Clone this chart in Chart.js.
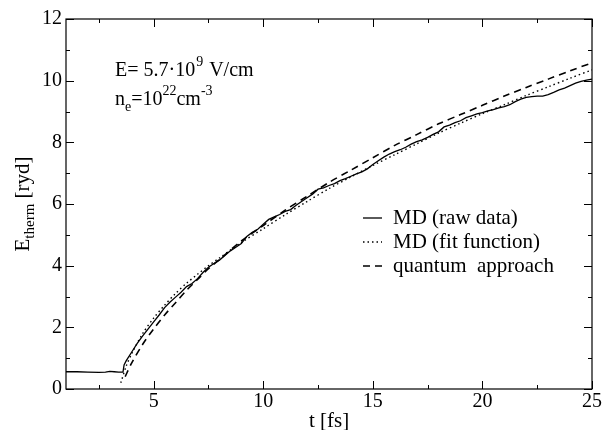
<!DOCTYPE html>
<html>
<head>
<meta charset="utf-8">
<script src="https://cdn.jsdelivr.net/npm/chart.js@4"></script>
<style>
  body { margin: 0; background: #fff; }
  #wrap { width: 604px; height: 430px; }
</style>
</head>
<body>
<div id="wrap"><canvas id="thermChart" width="604" height="430"></canvas></div>
<script>
// MD raw data (time in fs, energy in ryd)
const rawT = [1.0, 1.5, 2.0, 2.5, 2.8, 3.0, 3.2, 3.4, 3.6, 3.65, 3.75, 4.0, 4.25, 4.5, 4.75,
  5.0, 5.25, 5.5, 5.75, 6.0, 6.25, 6.5, 6.75, 7.0, 7.25, 7.5, 7.75, 8.0, 8.25, 8.5, 8.75,
  9.0, 9.25, 9.5, 9.75, 10.0, 10.25, 10.5, 10.75, 11.0, 11.25, 11.5, 11.75, 12.0, 12.25,
  12.5, 12.75, 13.0, 13.25, 13.5, 13.75, 14.0, 14.25, 14.5, 14.75, 15.0, 15.25, 15.5,
  15.75, 16.0, 16.25, 16.5, 16.75, 17.0, 17.25, 17.5, 17.75, 18.0, 18.25, 18.5, 18.75,
  19.0, 19.25, 19.5, 19.75, 20.0, 20.25, 20.5, 20.75, 21.0, 21.25, 21.5, 21.75, 22.0,
  22.25, 22.5, 22.75, 23.0, 23.25, 23.5, 23.75, 24.0, 24.25, 24.5, 24.75, 25.0];
const rawE = [0.56, 0.56, 0.55, 0.54, 0.55, 0.57, 0.56, 0.55, 0.55, 0.78, 0.92, 1.2, 1.48, 1.72, 1.95,
  2.18, 2.4, 2.64, 2.82, 2.98, 3.14, 3.32, 3.42, 3.58, 3.78, 3.95, 4.07, 4.18, 4.33, 4.48, 4.6,
  4.72, 4.95, 5.08, 5.18, 5.34, 5.5, 5.58, 5.66, 5.76, 5.82, 5.96, 6.08, 6.2, 6.32,
  6.48, 6.52, 6.6, 6.66, 6.76, 6.82, 6.9, 6.98, 7.04, 7.14, 7.28, 7.4, 7.52,
  7.62, 7.7, 7.76, 7.84, 7.94, 8.02, 8.08, 8.16, 8.26, 8.34, 8.5, 8.56, 8.64,
  8.7, 8.8, 8.86, 8.92, 8.96, 9.02, 9.06, 9.12, 9.16, 9.22, 9.32, 9.4, 9.46,
  9.48, 9.5, 9.5, 9.55, 9.62, 9.7, 9.76, 9.84, 9.92, 9.98, 10.02, 10.05];

// MD fit function
const fitT = [3.5, 3.75, 4.0, 4.5, 5.0, 5.5, 6.0, 6.5, 7.0, 7.5, 8.0, 9.0, 10.0, 11.0, 12.0,
  13.0, 14.0, 15.0, 16.0, 17.0, 18.0, 19.0, 20.0, 21.0, 22.0, 23.0, 24.0, 25.0];
const fitE = [0.2, 0.75, 1.15, 1.8, 2.3, 2.72, 3.1, 3.43, 3.72, 4.0, 4.25, 4.75, 5.2, 5.65, 6.08,
  6.5, 6.88, 7.25, 7.6, 7.95, 8.3, 8.62, 8.93, 9.22, 9.52, 9.8, 10.08, 10.35];

// quantum approach
const qT = [3.7, 4.0, 4.5, 5.0, 5.5, 6.0, 6.5, 7.0, 7.5, 8.0, 9.0, 10.0, 11.0, 12.0, 13.0,
  14.0, 15.0, 16.0, 17.0, 18.0, 19.0, 20.0, 21.0, 22.0, 23.0, 24.0, 25.0];
const qE = [0.4, 0.85, 1.45, 1.95, 2.4, 2.8, 3.2, 3.55, 3.9, 4.2, 4.8, 5.3, 5.8, 6.25, 6.7,
  7.1, 7.5, 7.9, 8.25, 8.6, 8.9, 9.2, 9.5, 9.78, 10.05, 10.32, 10.58];

const xMajor = [5, 10, 15, 20, 25];
const xMinor = [2.5, 7.5, 12.5, 17.5, 22.5];
const yMajor = [0, 2, 4, 6, 8, 10, 12];
const yMinor = [1, 3, 5, 7, 9, 11];

const legendLabels = ['MD (raw data)', 'MD (fit function)', 'quantum  approach'];

const FONT = '"Liberation Serif", "Times New Roman", serif';

function toPoints(xs, ys) {
  return xs.map((x, i) => ({ x: x, y: ys[i] }));
}

// frame, inward ticks, legend, labels
const decorations = {
  id: 'decorations',
  afterDraw(chart) {
    const ctx = chart.ctx;
    const a = chart.chartArea;
    const xs = chart.scales.x;
    const ys = chart.scales.y;
    ctx.save();
    ctx.strokeStyle = '#000';
    ctx.lineWidth = 1.2;
    ctx.strokeRect(a.left, a.top, a.right - a.left, a.bottom - a.top);

    ctx.beginPath();
    const tickX = (v, len) => {
      const px = Math.round(xs.getPixelForValue(v)) + 0.5;
      ctx.moveTo(px, a.bottom); ctx.lineTo(px, a.bottom - len);
      ctx.moveTo(px, a.top); ctx.lineTo(px, a.top + len);
    };
    const tickY = (v, len) => {
      const py = Math.round(ys.getPixelForValue(v)) + 0.5;
      ctx.moveTo(a.left, py); ctx.lineTo(a.left + len, py);
      ctx.moveTo(a.right, py); ctx.lineTo(a.right - len, py);
    };
    xMajor.forEach(v => tickX(v, 8));
    xMinor.forEach(v => tickX(v, 4));
    yMajor.forEach(v => tickY(v, 8));
    yMinor.forEach(v => tickY(v, 4));
    ctx.lineWidth = 1;
    ctx.stroke();

    ctx.fillStyle = '#000';
    ctx.textBaseline = 'alphabetic';
    ctx.textAlign = 'left';

    // annotation
    const big = '20px ' + FONT;
    const small = '14px ' + FONT;
    let x = 115;
    ctx.font = big;
    let s = 'E= 5.7\u00b710';
    ctx.fillText(s, x, 76); x += ctx.measureText(s).width;
    ctx.font = small; ctx.fillText('9', x + 1, 66); x += ctx.measureText('9').width + 2;
    ctx.font = big; ctx.fillText(' V/cm', x, 76);

    x = 115;
    ctx.font = big; ctx.fillText('n', x, 105); x += ctx.measureText('n').width;
    ctx.font = small; ctx.fillText('e', x, 111); x += ctx.measureText('e').width;
    ctx.font = big; ctx.fillText('=10', x, 105); x += ctx.measureText('=10').width;
    ctx.font = small; ctx.fillText('22', x, 95); x += ctx.measureText('22').width;
    ctx.font = big; ctx.fillText('cm', x, 105); x += ctx.measureText('cm').width;
    ctx.font = small; ctx.fillText('-3', x, 95);

    // legend
    const rows = [218, 242, 266];
    const dashes = [[], [1.5, 3], [7, 5]];
    const widths = [1.3, 1.4, 1.6];
    ctx.font = '21px ' + FONT;
    ctx.textBaseline = 'middle';
    legendLabels.forEach((lab, i) => {
      ctx.beginPath();
      ctx.setLineDash(dashes[i]);
      ctx.lineWidth = widths[i];
      ctx.moveTo(363, rows[i]);
      ctx.lineTo(382, rows[i]);
      ctx.stroke();
      ctx.setLineDash([]);
      ctx.fillText(lab, 393, rows[i]);
    });

    // axis titles
    ctx.textAlign = 'center';
    ctx.font = '21px ' + FONT;
    ctx.fillText('t [fs]', (a.left + a.right) / 2, 421);

    ctx.translate(22, (a.top + a.bottom) / 2);
    ctx.rotate(-Math.PI / 2);
    ctx.textAlign = 'left';
    ctx.textBaseline = 'alphabetic';
    const part1 = 'E', part2 = 'therm', part3 = ' [ryd]';
    ctx.font = '21px ' + FONT;
    const w1 = ctx.measureText(part1).width, w3 = ctx.measureText(part3).width;
    ctx.font = '15px ' + FONT;
    const w2 = ctx.measureText(part2).width;
    let tx = -(w1 + w2 + w3) / 2;
    ctx.font = '21px ' + FONT; ctx.fillText(part1, tx, 7); tx += w1;
    ctx.font = '15px ' + FONT; ctx.fillText(part2, tx, 12); tx += w2;
    ctx.font = '21px ' + FONT; ctx.fillText(part3, tx, 7);
    ctx.restore();
  }
};

const ctx = document.getElementById('thermChart').getContext('2d');
const thermChart = new Chart(ctx, {
  type: 'scatter',
  data: {
    datasets: [
      { label: legendLabels[0], data: toPoints(rawT, rawE), showLine: true, borderColor: '#000',
        borderWidth: 1.3, pointRadius: 0, tension: 0 },
      { label: legendLabels[1], data: toPoints(fitT, fitE), showLine: true, borderColor: '#000',
        borderWidth: 1.4, borderDash: [1.5, 3], pointRadius: 0, tension: 0.3 },
      { label: legendLabels[2], data: toPoints(qT, qE), showLine: true, borderColor: '#000',
        borderWidth: 1.6, borderDash: [7, 5], pointRadius: 0, tension: 0.3 }
    ]
  },
  options: {
    responsive: false,
    animation: false,
    layout: { padding: { top: 19, right: 12, left: 0, bottom: 0 } },
    plugins: { legend: { display: false }, tooltip: { enabled: false } },
    scales: {
      x: {
        type: 'linear', min: 1, max: 25,
        grid: { display: false, drawTicks: false },
        border: { display: false },
        afterBuildTicks: s => { s.ticks = xMajor.map(v => ({ value: v })); },
        afterFit: s => { s.height = 41; },
        ticks: { color: '#000', font: { family: FONT, size: 20 }, padding: 1, maxRotation: 0 }
      },
      y: {
        min: 0, max: 12,
        grid: { display: false, drawTicks: false },
        border: { display: false },
        afterBuildTicks: s => { s.ticks = yMajor.map(v => ({ value: v })); },
        afterFit: s => { s.width = 66; },
        ticks: { color: '#000', font: { family: FONT, size: 20 }, padding: 4 }
      }
    }
  },
  plugins: [decorations]
});
</script>
</body>
</html>
